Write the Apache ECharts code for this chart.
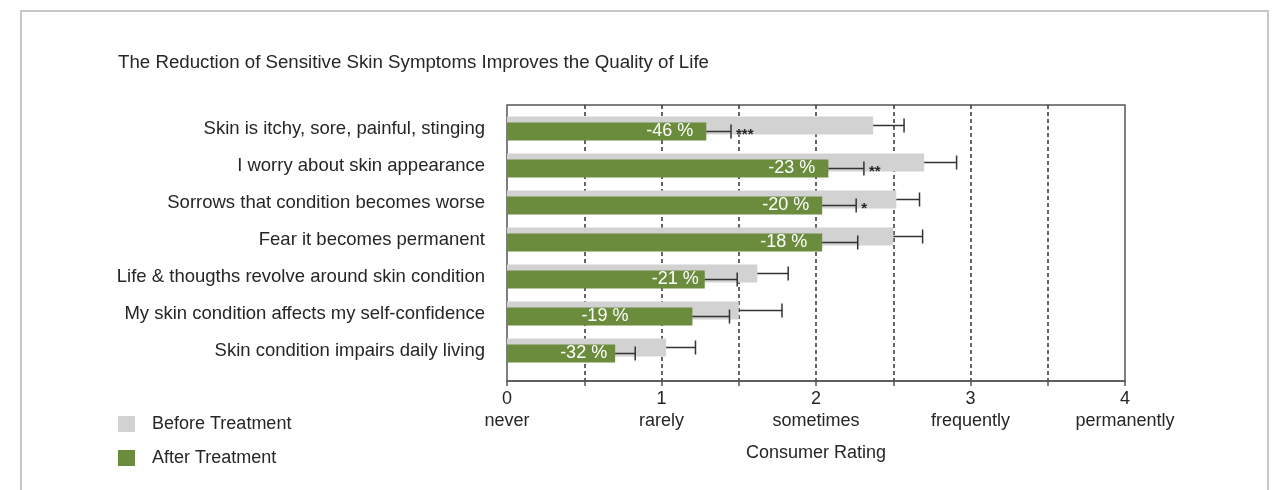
<!DOCTYPE html>
<html lang="en">

<head>
    <meta charset="UTF-8">
    <title>Sensitive Skin Symptoms</title>
    <style>
        html, body {
            margin: 0;
            padding: 0;
            background: #fff;
        }

        #chart {
            width: 1274px;
            height: 490px;
        }
    </style>
</head>

<body>
    <div id="chart"></div>
    <script src="https://cdn.jsdelivr.net/npm/echarts@6/dist/echarts.min.js"></script>
    <script>
        // data
        var categories = [
            'Skin is itchy, sore, painful, stinging',
            'I worry about skin appearance',
            'Sorrows that condition becomes worse',
            'Fear it becomes permanent',
            'Life & thougths revolve around skin condition',
            'My skin condition affects my self-confidence',
            'Skin condition impairs daily living'
        ];
        var before = [2.37, 2.70, 2.52, 2.50, 1.62, 1.50, 1.03];
        var beforeErr = [0.20, 0.21, 0.15, 0.19, 0.20, 0.28, 0.19];
        var after = [1.29, 2.08, 2.04, 2.04, 1.28, 1.20, 0.70];
        var afterErr = [0.16, 0.23, 0.22, 0.23, 0.21, 0.24, 0.13];
        var reduction = [-46, -23, -20, -18, -21, -19, -32];
        var stars = ['***', '**', '*', '', '', '', ''];
        var tickWords = ['never', 'rarely', 'sometimes', 'frequently', 'permanently'];

        var FONT = '"Liberation Sans", Arial, sans-serif';
        var GRAY = '#d2d2d2';
        var GREEN = '#6a8c3c';
        var INK = '#262626';

        // label distance from bar end, per row (as in the original)
        var labelDist = [13, 13, 13, 15, 6, 64, 8];

        var chart = echarts.init(document.getElementById('chart'));

        var errData = [];
        before.forEach(function (v, i) {
            errData.push([v, i, beforeErr[i], -3, '']);
        });
        after.forEach(function (v, i) {
            errData.push([v, i, afterErr[i], 3, stars[i]]);
        });

        function renderErr(params, api) {
            var v = api.value(0), cat = api.value(1), err = api.value(2), dy = api.value(3);
            var s = errData[params.dataIndex][4];
            var p0 = api.coord([v, cat]);
            var p1 = api.coord([v + err, cat]);
            var y = p0[1] + dy;
            var st = { stroke: '#333', lineWidth: 1.5 };
            var kids = [
                { type: 'line', shape: { x1: p0[0], y1: y, x2: p1[0], y2: y }, style: st },
                { type: 'line', shape: { x1: p1[0], y1: y - 7, x2: p1[0], y2: y + 7 }, style: st }
            ];
            if (s) {
                kids.push({
                    type: 'text',
                    style: {
                        x: p1[0] + 5, y: y + 3, text: s, fill: INK,
                        font: 'bold 15px ' + FONT, verticalAlign: 'middle', align: 'left'
                    }
                });
            }
            return { type: 'group', children: kids };
        }

        var option = {
            animation: false,
            textStyle: { fontFamily: FONT },
            title: {
                text: 'The Reduction of Sensitive Skin Symptoms Improves the Quality of Life',
                left: 118,
                top: 53,
                padding: 0,
                textStyle: { fontSize: 18.7, fontWeight: 'normal', color: INK, fontFamily: FONT }
            },
            legend: {
                data: ['Before Treatment', 'After Treatment'],
                orient: 'vertical',
                left: 118,
                top: 415,
                padding: 0,
                itemWidth: 17,
                itemHeight: 16,
                itemGap: 16,
                icon: 'rect',
                textStyle: { fontSize: 18, color: INK, fontFamily: FONT, padding: [0, 0, 0, 12] }
            },
            graphic: [{
                type: 'rect',
                shape: { x: 21, y: 11, width: 1247, height: 600 },
                style: { fill: 'none', stroke: '#c8c8c8', lineWidth: 2 },
                silent: true
            }],
            grid: [{
                left: 507, width: 618, top: 105, height: 276,
                show: true, borderColor: '#555', borderWidth: 1.5
            }, {
                left: 507, width: 618, top: 110, height: 259
            }],
            xAxis: [{
                gridIndex: 0,
                type: 'value',
                min: 0,
                max: 4,
                interval: 0.5,
                axisLine: { show: true, lineStyle: { color: '#555', width: 1.5 } },
                axisTick: { show: true, length: 5, lineStyle: { color: '#555', width: 1.5 } },
                splitLine: {
                    show: true,
                    showMinLine: false,
                    showMaxLine: false,
                    lineStyle: { color: '#333', width: 1.5, type: [4, 3] }
                },
                axisLabel: {
                    margin: 8,
                    formatter: function (v) {
                        if (v % 1 !== 0) return '';
                        return '{n|' + v + '}\n{w|' + tickWords[v] + '}';
                    },
                    rich: {
                        n: { fontSize: 18, color: INK, lineHeight: 20, fontFamily: FONT },
                        w: { fontSize: 18, color: INK, lineHeight: 24, fontFamily: FONT }
                    }
                },
                name: 'Consumer Rating',
                nameLocation: 'middle',
                nameGap: 63,
                nameTextStyle: { fontSize: 18, color: INK, fontFamily: FONT }
            }, {
                gridIndex: 1,
                type: 'value',
                min: 0,
                max: 4,
                show: false
            }],
            yAxis: [{
                gridIndex: 0,
                type: 'value',
                min: 0,
                max: 1,
                show: false
            }, {
                gridIndex: 1,
                type: 'category',
                data: categories,
                inverse: true,
                axisLine: { show: false },
                axisTick: { show: false },
                axisLabel: { fontSize: 18.5, color: INK, margin: 22, fontFamily: FONT, padding: [3, 0, 0, 0] }
            }],
            series: [{
                name: 'Before Treatment',
                type: 'bar',
                xAxisIndex: 1,
                yAxisIndex: 1,
                data: before,
                barWidth: 18,
                barGap: '-67%',
                itemStyle: { color: GRAY }
            }, {
                name: 'After Treatment',
                type: 'bar',
                xAxisIndex: 1,
                yAxisIndex: 1,
                data: after.map(function (v, i) {
                    return { value: v, label: { distance: labelDist[i] } };
                }),
                barWidth: 18,
                itemStyle: { color: GREEN },
                label: {
                    show: true,
                    position: 'insideRight',
                    color: '#fff',
                    fontSize: 18,
                    fontFamily: FONT,
                    formatter: function (p) {
                        return reduction[p.dataIndex] + ' %';
                    }
                }
            }, {
                name: 'err',
                type: 'custom',
                xAxisIndex: 1,
                yAxisIndex: 1,
                data: errData.map(function (d) { return d.slice(0, 4); }),
                renderItem: renderErr,
                z: 5
            }]
        };
        chart.setOption(option);
    </script>
</body>

</html>
